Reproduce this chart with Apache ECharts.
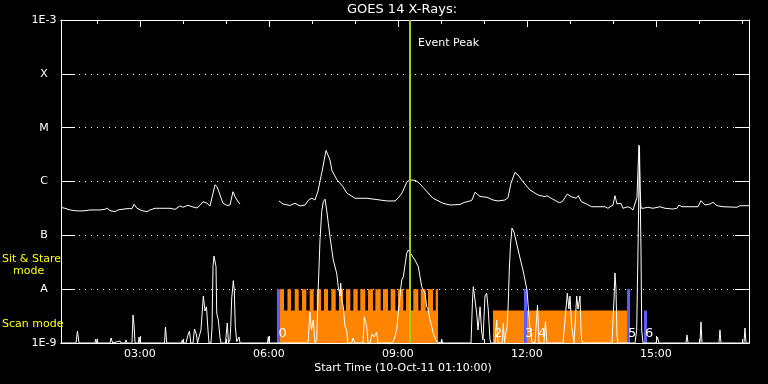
<!DOCTYPE html>
<html><head><meta charset="utf-8">
<script src="https://cdn.jsdelivr.net/npm/echarts@6/dist/echarts.min.js"></script>
<style>html,body{margin:0;padding:0;background:#000}#c{width:768px;height:384px}</style>
</head><body><div id="c"></div>
<script>
// Times are minutes since 00:00 on 10-Oct-2011; fluxes in W/m^2
const xMin = 70, xMax = 1030;
const majorTicks = [180, 360, 540, 720, 900];
const hourTicks = [120, 180, 240, 300, 360, 420, 480, 540, 600, 660, 720, 780, 840, 900, 960, 1020];
const levelNames = ['1E-9', 'A', 'B', 'C', 'M', 'X', '1E-3'];

const longTime = [70,75.6,82.6,89.5,96.5,103.5,110.5,117.4,124.4,131.4,134.2,138.4,145.3,149.5,155.1,162.1,169.1,171.9,176.0,183.0,190.0,194.2,201.2,208.1,215.1,222.1,229.1,236.0,240.2,247.2,252.8,259.8,264.0,268.1,273.7,277.9,282.1,284.9,287.7,291.9,296.0,301.6,305.8,310.0,312.8,317.0,319.8,
 345,
 374.2,379.8,389.5,396.5,403.5,410.5,416.1,420.2,424.4,428.6,434.2,439.8,442.6,445.3,448.1,455.1,459.3,463.5,469.1,473.2,480.2,497.0,515.1,524.9,536.1,540.3,545.8,552.8,557.0,564.0,568.1,575.1,589.1,603.0,612.8,626.7,632.3,640.7,643.5,647.7,654.7,664.4,672.8,679.8,689.5,693.7,697.9,703.5,707.7,714.6,724.4,735.6,745.3,748.1,756.5,765.3,769.5,776.5,782.0,789.0,791.8,796.0,803.0,810.3,829.1,833.2,840.2,843.0,845.8,851.4,854.2,861.1,865.3,868.1,873.7,875.1,876.5,877.9,879.3,882.1,889.0,896.0,905.8,912.8,923.9,929.5,932.3,936.5,951.8,958.8,963.0,968.6,975.6,979.8,985.3,993.7,1013.2,1017.4,1030];
const longFlux = [3.29e-7,3.18e-7,2.96e-7,2.87e-7,2.83e-7,2.87e-7,2.96e-7,2.96e-7,2.96e-7,3.04e-7,3.22e-7,2.87e-7,2.75e-7,2.96e-7,3.04e-7,3.13e-7,3.13e-7,3.77e-7,3.18e-7,2.87e-7,2.75e-7,2.96e-7,3.18e-7,3.18e-7,3.18e-7,3.18e-7,3.04e-7,3.51e-7,3.32e-7,3.61e-7,3.40e-7,3.22e-7,3.61e-7,4.22e-7,3.94e-7,3.51e-7,6.04e-7,8.7e-7,8.0e-7,5.62e-7,3.94e-7,3.59e-7,3.66e-7,6.46e-7,5.22e-7,4.22e-7,3.82e-7,
 null,
 4.35e-7,3.82e-7,3.59e-7,3.94e-7,3.51e-7,3.66e-7,4.63e-7,4.88e-7,4.53e-7,6.66e-7,1.53e-6,3.77e-6,3.10e-6,2.51e-6,1.60e-6,1.07e-6,9.3e-7,8.0e-7,6.04e-7,5.62e-7,4.88e-7,4.88e-7,4.53e-7,4.35e-7,4.35e-7,4.88e-7,6.12e-7,9.9e-7,1.07e-6,1.05e-6,9.8e-7,7.8e-7,4.88e-7,3.94e-7,3.66e-7,3.74e-7,4.07e-7,4.35e-7,4.53e-7,6.3e-7,5.27e-7,5.08e-7,4.53e-7,4.35e-7,4.53e-7,5.0e-7,9.3e-7,1.48e-6,1.32e-6,9.9e-7,6.95e-7,5.62e-7,5.22e-7,5.45e-7,4.67e-7,4.04e-7,4.22e-7,5.86e-7,5.22e-7,4.88e-7,5.45e-7,4.22e-7,3.82e-7,3.40e-7,3.40e-7,3.18e-7,3.66e-7,5.45e-7,3.82e-7,3.94e-7,3.18e-7,3.40e-7,3.18e-7,2.96e-7,5.08e-7,1.64e-6,4.76e-6,6.95e-7,3.22e-7,3.18e-7,3.32e-7,3.18e-7,3.40e-7,3.18e-7,3.08e-7,3.18e-7,3.66e-7,3.40e-7,3.40e-7,3.40e-7,4.40e-7,3.66e-7,3.82e-7,4.11e-7,3.55e-7,3.40e-7,3.32e-7,3.55e-7,3.55e-7];

const shortTime = [70,90.9,93.0,95.1,117.4,118.6,119.8,138.4,139.8,142.1,152.3,153.7,159.3,160.7,162.1,169.1,170.5,171.9,173.3,178.1,178.8,180.2,214.4,215.8,217.5,238.1,239.3,240.2,244.4,247.2,249.3,251.0,254.2,256.3,259.1,260.5,262.6,265.3,268.6,270.9,273.0,275.1,276.5,279.3,280.7,282.1,283.5,285.3,286.3,287.3,289.5,291.9,293.3,299.5,302.0,303.7,305.8,306.8,308.2,309.6,310.4,311.8,313.2,315.2,316.3,318.4,319.8,358.1,359.3,360.2,414.6,417.4,419.5,422.0,424.4,426.8,429.0,431.4,433.8,436.0,438.4,440.7,443.0,445.3,449.9,454.7,456.9,459.3,460.3,461.7,463.9,466.3,468.7,470.0,475.6,477.4,480.2,491.4,493.2,496.6,498.4,501.2,504.0,506.7,510.5,512.3,531.9,534.6,538.4,540.6,543.0,545.4,547.6,550.0,552.4,554.6,557.0,559.3,563.9,568.6,573.3,577.9,580.3,582.1,584.9,589.5,594.2,596.0,600.2,601.2,602.3,642.1,644.2,645.3,647.7,650.0,651.9,654.7,657.0,658.8,661.6,664.0,666.2,668.6,670.0,675.6,677.9,679.8,685.4,687.2,688.8,690.2,692.3,694.1,695.5,697.2,699.3,702.1,706.3,710.5,714.6,717.4,720.2,722.3,724.4,727.2,731.4,734.9,736.9,743.9,746.0,748.1,770.5,773.3,776.5,778.8,780.2,782.6,785.8,789.6,791.4,794.2,795.6,796.5,798.4,838.8,841.6,843.0,844.4,845.8,847.2,870.9,873.3,875.1,877.2,879.3,880.3,882.1,900.2,902.3,904.4,942.1,943.5,944.9,961.6,963.0,964.4,988.1,989.5,990.9,1023.0,1024.4,1025.8,1030];
const shortFlux = [1e-9,1e-9,1.67e-9,1e-9,1e-9,1.18e-9,1e-9,1e-9,1.24e-9,1e-9,1.09e-9,1e-9,1e-9,1.14e-9,1e-9,1e-9,3.31e-9,2.16e-9,1e-9,1e-9,1.29e-9,1e-9,1e-9,1.98e-9,1e-9,1e-9,1.14e-9,1e-9,1e-9,1.41e-9,1.67e-9,1e-9,1e-9,1.82e-9,1.41e-9,1e-9,1.29e-9,1.74e-9,7.47e-9,3.93e-9,4.7e-9,1.74e-9,1e-9,1e-9,1.90e-9,2.62e-8,4.13e-8,4.31e-8,2.62e-8,3.61e-9,2.68e-9,1.24e-9,1e-9,1e-9,2.35e-9,1e-9,1.14e-9,2.0e-9,6.86e-9,1.05e-8,1.44e-8,9.65e-9,2.0e-9,1.06e-9,1e-9,1.29e-9,1e-9,1e-9,1.31e-9,1e-9,1e-9,3.81e-9,1.74e-9,2.68e-9,1e-9,1.14e-9,1.11e-8,8.19e-8,2.75e-7,4.22e-7,4.70e-7,2.96e-7,1.67e-7,9.5e-8,3.48e-8,1.97e-8,1.11e-8,7.47e-9,1.30e-8,6.29e-9,4.7e-9,2.0e-9,1.74e-9,1e-9,1e-9,1.24e-9,1e-9,1e-9,3.07e-9,2.0e-9,1e-9,1e-9,1.47e-9,1.29e-9,1.60e-9,1e-9,1e-9,1.14e-9,1.74e-9,3.61e-9,7.47e-9,1.48e-8,1.68e-8,1.70e-8,4.64e-8,5.34e-8,5.74e-8,4.31e-8,3.48e-8,2.62e-8,1.11e-8,8.4e-9,4.7e-9,4.28e-9,2.68e-9,1.51e-9,1.06e-9,1e-9,1e-9,1.18e-9,1e-9,1e-9,6.29e-9,1.11e-8,1.15e-8,3.61e-9,1.74e-9,4.7e-9,1.60e-9,1.14e-9,7.47e-9,8.4e-9,4.1e-9,1.14e-9,1e-9,1e-9,2.68e-9,1e-9,1e-9,2.35e-9,1e-9,1.41e-9,1.90e-9,5.54e-9,2.27e-8,6.62e-8,1.37e-7,1.15e-7,6.62e-8,3.79e-8,2.27e-8,1.48e-8,9.65e-9,4.1e-9,1.90e-9,1.04e-9,1e-9,5.08e-9,1e-9,1e-9,2.49e-9,1e-9,1e-9,2.68e-9,8.4e-9,4.28e-9,7.47e-9,2.0e-9,1e-9,7.47e-9,4.28e-9,7.47e-9,1.74e-9,1.14e-9,1e-9,1e-9,6.29e-9,2.0e-8,9.65e-9,1.41e-9,1e-9,1e-9,1.74e-9,5.34e-8,4.37e-6,5.34e-8,1.74e-9,1e-9,1e-9,1.29e-9,1e-9,1e-9,1.41e-9,1e-9,1e-9,2.46e-9,1e-9,1e-9,1.74e-9,1e-9,1e-9,1.90e-9,1e-9,1e-9];

// Observation bars
const scanStart = [375.6, 672.8];
const scanEnd = [596.0, 859.8];
const stareStart = [375.6,386.0,396.1,406.3,417.0,426.8,437.0,447.2,457.9,467.7,477.9,487.6,498.4,508.6,519.3,530.0,540.2,551.4,561.6,571.9,582.1,592.8];
const stareEnd = [381.2,390.9,401.7,412.3,422.6,432.8,442.6,453.3,463.5,473.7,484.0,494.6,505.3,516.1,526.3,536.5,547.6,558.0,568.6,578.9,589.1,596.0];
const markerTime = [373.5, 718.1, 861.9, 885.6];
const markerTop = [1e-8, 1e-8, 1e-8, 4e-9];
const obsLabelTime = [373.5, 674.2, 717.6, 735.6, 861.1, 884.9];
const obsLabelText = ['0', '2', '3', '4', '5', '6'];
const eventPeakTime = 557;

const SCAN_LEVEL = 4e-9, STARE_LEVEL = 1e-8, BASE = 1e-9, LABEL_LEVEL = 1.47e-9;

function fmtTime(v) {
  const h = Math.floor(v / 60), m = Math.round(v % 60);
  return String(h).padStart(2, '0') + ':' + String(m).padStart(2, '0');
}
const FONT = '"DejaVu Sans", sans-serif';
function xAx(pos, ticks, len, showLabel) {
  return {
    type: 'value', min: xMin, max: xMax, position: pos, gridIndex: 0,
    axisLine: {show: true, onZero: false, lineStyle: {color: '#fff', width: 1}},
    axisTick: {show: true, inside: true, length: len, customValues: ticks, lineStyle: {color: '#fff'}},
    axisLabel: {show: showLabel, customValues: majorTicks, formatter: fmtTime, color: '#fff', fontSize: 11, fontFamily: FONT, margin: 6},
    splitLine: {show: false}
  };
}
function yAx(pos, showLabel) {
  return {
    type: 'log', logBase: 10, min: 1e-9, max: 1e-3, position: pos, splitNumber: 6,
    axisLine: {show: true, onZero: false, lineStyle: {color: '#fff', width: 1}},
    axisTick: {show: true, inside: true, length: 14, lineStyle: {color: '#fff'}},
    axisLabel: {show: showLabel, formatter: v => levelNames[Math.round(Math.log10(v)) + 9], color: '#fff', fontSize: 11, fontFamily: FONT, align: 'center', margin: 17},
    splitLine: {show: pos === 'left', lineStyle: {color: '#fff', type: [1, 5], width: 1}},
    minorTick: {show: false}
  };
}
function rectRender(level) {
  return function (p, api) {
    const a = api.coord([api.value(0), level]);
    const b = api.coord([api.value(1), BASE]);
    return {type: 'rect', shape: {x: a[0], y: a[1], width: b[0] - a[0], height: b[1] - a[1]}, style: {fill: '#ff8400'}};
  };
}
function txt(x, y, text, font, fill, align) {
  return {type: 'text', x: x, y: y, silent: true,
    style: {text: text, font: font, fill: fill, align: align, textAlign: align, verticalAlign: 'middle', textVerticalAlign: 'middle'}};
}

const chart = echarts.init(document.getElementById('c'), null, {renderer: 'canvas'});
chart.setOption({
  backgroundColor: '#000',
  animation: false,
  grid: {left: 61, right: 19, top: 20, bottom: 41, containLabel: false},
  xAxis: [xAx('bottom', majorTicks, 7, true), xAx('bottom', hourTicks, 4, false), xAx('top', majorTicks, 7, false), xAx('top', hourTicks, 4, false)],
  yAxis: [yAx('left', true), yAx('right', false)],
  graphic: [
    txt(402, 10, 'GOES 14 X-Rays:', '13px ' + FONT, '#fff', 'center'),
    txt(418, 43, 'Event Peak', '11px ' + FONT, '#fff', 'left'),
    txt(403, 368, 'Start Time (10-Oct-11 01:10:00)', '11px ' + FONT, '#fff', 'center'),
    txt(2, 259, 'Sit & Stare', '11px ' + FONT, '#ffff00', 'left'),
    txt(13, 271, 'mode', '11px ' + FONT, '#ffff00', 'left'),
    txt(2, 324, 'Scan mode', '11px ' + FONT, '#ffff00', 'left')
  ],
  series: [
    {type: 'custom', name: 'scan', z: 1, clip: true, renderItem: rectRender(SCAN_LEVEL),
     encode: {x: [0, 1]}, data: scanStart.map((s, i) => [s, scanEnd[i]])},
    {type: 'custom', name: 'stare', z: 1, clip: true, renderItem: rectRender(STARE_LEVEL),
     encode: {x: [0, 1]}, data: stareStart.map((s, i) => [s, stareEnd[i]])},
    {type: 'custom', name: 'markers', z: 2, clip: true,
     renderItem: function (p, api) {
       const a = api.coord([api.value(0), api.value(1)]);
       const b = api.coord([api.value(0), BASE]);
       return {type: 'rect', shape: {x: a[0] - 1.5, y: a[1], width: 3, height: b[1] - a[1]}, style: {fill: '#5c5cff'}};
     },
     encode: {x: 0, y: 1}, data: markerTime.map((t, i) => [t, markerTop[i]])},
    {type: 'custom', name: 'obsLabels', z: 3, clip: false,
     renderItem: function (p, api) {
       const a = api.coord([api.value(0), LABEL_LEVEL]);
       return {type: 'text', x: a[0], y: a[1],
         style: {text: obsLabelText[p.dataIndex], fill: '#fff', font: '13px ' + FONT, align: 'left', verticalAlign: 'middle'}};
     },
     encode: {x: 0}, data: obsLabelTime.map(t => [t])},
    {type: 'line', name: 'long', z: 4, showSymbol: false, connectNulls: false, clip: true,
     lineStyle: {color: '#fff', width: 1}, itemStyle: {color: '#fff'},
     data: longTime.map((t, i) => [t, longFlux[i]])},
    {type: 'line', name: 'short', z: 4, showSymbol: false, clip: true,
     lineStyle: {color: '#fff', width: 1}, itemStyle: {color: '#fff'},
     data: shortTime.map((t, i) => [t, shortFlux[i]])},
    {type: 'line', name: 'peak', z: 6, data: [],
     markLine: {silent: true, symbol: ['none', 'none'], label: {show: false},
       lineStyle: {color: '#a2d11c', width: 2, type: 'solid'}, data: [{xAxis: eventPeakTime}]}}
  ]
});
</script>
</body></html>
